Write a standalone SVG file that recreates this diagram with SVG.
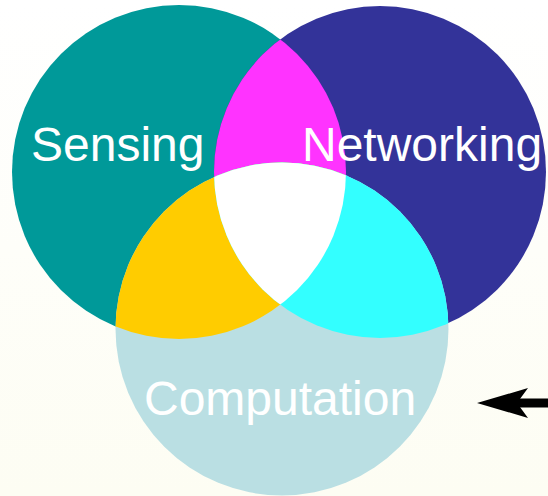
<svg xmlns="http://www.w3.org/2000/svg" width="548" height="496" viewBox="0 0 548 496">
  <defs>
    <linearGradient id="bg" x1="0" y1="0" x2="0" y2="1">
      <stop offset="0" stop-color="#ffffff"/>
      <stop offset="1" stop-color="#fdfdf3"/>
    </linearGradient>
    <clipPath id="clipS"><circle cx="179" cy="172" r="167"/></clipPath>
    <clipPath id="clipN"><circle cx="380" cy="172" r="166"/></clipPath>
    <clipPath id="clipC"><circle cx="282" cy="329" r="166.5"/></clipPath>
    <marker id="head" markerUnits="userSpaceOnUse" viewBox="0 0 52 32" markerWidth="52" markerHeight="32" refX="11" refY="16" orient="auto">
      <path d="M51,16 L0,1 L11,16 L0,31 Z" fill="#000"/>
    </marker>
    <style>
      .label { font-family: "Liberation Sans", Arial, sans-serif; font-size: 48px; fill: #ffffff; }
      .conn { stroke: #000; stroke-width: 9; fill: none; }
    </style>
  </defs>

  <rect width="548" height="496" fill="url(#bg)"/>

  <!-- the three sets -->
  <g id="sensing"><circle cx="179" cy="172" r="167" fill="#009999"/></g>
  <g id="networking"><circle cx="380" cy="172" r="166" fill="#333399"/></g>

  <!-- Sensing ∩ Networking -->
  <g id="overlap-sensing-networking">
    <circle cx="380" cy="172" r="166" fill="#ff33ff" clip-path="url(#clipS)"/>
  </g>

  <g id="computation"><circle cx="282" cy="329" r="166.5" fill="#badfe3"/></g>

  <!-- pairwise overlaps with Computation, then the common centre -->
  <g id="overlap-sensing-computation">
    <circle cx="179" cy="172" r="167" fill="#ffcc00" clip-path="url(#clipC)"/>
  </g>
  <g id="overlap-networking-computation">
    <circle cx="380" cy="172" r="166" fill="#33ffff" clip-path="url(#clipC)"/>
  </g>
  <g id="overlap-all">
    <g clip-path="url(#clipS)">
      <circle cx="282" cy="329" r="166.5" fill="#ffffff" clip-path="url(#clipN)"/>
    </g>
  </g>

  <!-- set names -->
  <g id="labels">
    <text id="sensing-label" class="label" x="31" y="161">Sensing</text>
    <text id="networking-label" class="label" x="302" y="161">Networking</text>
    <text id="computation-label" class="label" x="144" y="415">Computation</text>
  </g>

  <g id="connectors">
    <path class="conn" d="M548,403 L517,403" marker-end="url(#head)"/>
  </g>
</svg>
